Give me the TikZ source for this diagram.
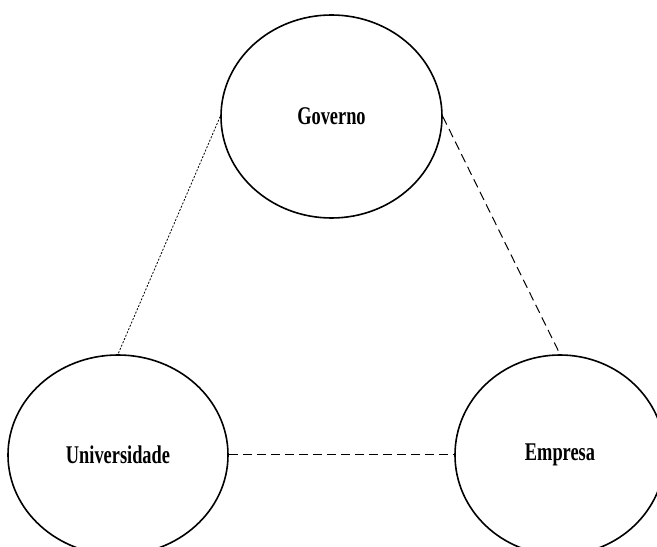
\documentclass[tikz,border=0pt]{standalone}
\usepackage{fontspec}
\setmainfont{Liberation Serif}
\usetikzlibrary{shapes.geometric}
\tikzset{
  actor/.style={ellipse, draw, line width=1.6pt, inner sep=0pt,
    font=\fontsize{25.5}{30}\selectfont\bfseries},
  dotlink/.style={line width=0.8pt, dash pattern=on 2pt off 1.6pt},
  dashlink/.style={line width=1pt, dash pattern=on 9pt off 5pt}
}
\newcommand{\narrow}[1]{\scalebox{0.72}[1]{#1}}
\begin{document}
\begin{tikzpicture}[x=1pt,y=1pt]
\useasboundingbox (0,0) rectangle (657,547);
\node[actor, minimum width=221pt, minimum height=203pt] (G) at (331.5,430.5) {\narrow{Governo}};
\node[actor, minimum width=220pt, minimum height=200pt] (U) at (118,92) {\narrow{Universidade}};
\node[actor, minimum width=210pt, minimum height=200pt] (E) at (560,92) {\narrow{Empresa}};
\draw[dotlink] (G.west) -- (U.north);
\draw[dashlink] (G.east) -- (E.north);
\draw[dashlink] (U.east) -- (E.west);
\end{tikzpicture}
\end{document}
